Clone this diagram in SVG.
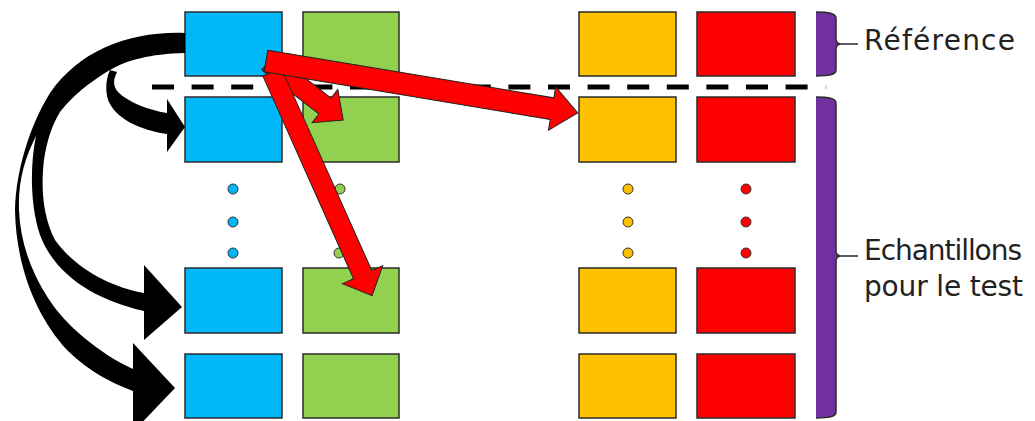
<svg xmlns="http://www.w3.org/2000/svg" width="1035" height="421" viewBox="0 0 1035 421">
<style>
.box{stroke:#2b2b2b;stroke-width:1.5}
.blue{fill:#00B8F8}
.green{fill:#92D050}
.orange{fill:#FFC000}
.red{fill:#FF0000}
.dot{stroke:#333;stroke-width:1}
.blk{fill:#000}
.rarrow{fill:#FF0000;stroke:#222;stroke-width:1;stroke-linejoin:miter}
.brace{fill:#7030A0}
.braceEdge{fill:none;stroke:#2a2a2a;stroke-width:1.5}
.lbl{font-family:"DejaVu Sans",sans-serif;font-size:28px;fill:#222}
</style>
<rect width="1035" height="421" fill="#fff"/>
<g id="separator">
<line x1="152" y1="87" x2="808" y2="87" stroke="#000" stroke-width="5" stroke-dasharray="22 17.6"/>
<line x1="826" y1="85" x2="826" y2="89" stroke="#aaa" stroke-width="1"/>
</g>
<g id="col-blue">
<rect id="b1" class="box blue" x="185" y="12" width="97" height="64"/>
<rect id="b2" class="box blue" x="185" y="97" width="97" height="65"/>
<circle class="dot blue" cx="233" cy="189" r="5"/>
<circle class="dot blue" cx="233" cy="222" r="5"/>
<circle class="dot blue" cx="233" cy="253" r="5"/>
<rect id="b3" class="box blue" x="185" y="268" width="97" height="65"/>
<rect id="b4" class="box blue" x="185" y="354" width="97" height="64"/>
</g>
<g id="col-green">
<rect id="g1" class="box green" x="303" y="12" width="96" height="64"/>
<rect id="g2" class="box green" x="303" y="97" width="96" height="65"/>
<circle class="dot green" cx="340" cy="189" r="5"/>
<circle class="dot green" cx="340" cy="222" r="5"/>
<circle class="dot green" cx="339" cy="253" r="5"/>
<rect id="g3" class="box green" x="303" y="268" width="96" height="65"/>
<rect id="g4" class="box green" x="303" y="354" width="96" height="64"/>
</g>
<g id="col-orange">
<rect id="o1" class="box orange" x="579" y="12" width="97" height="64"/>
<rect id="o2" class="box orange" x="579" y="97" width="97" height="65"/>
<circle class="dot orange" cx="628" cy="189" r="5"/>
<circle class="dot orange" cx="628" cy="222" r="5"/>
<circle class="dot orange" cx="628" cy="253" r="5"/>
<rect id="o3" class="box orange" x="579" y="268" width="97" height="65"/>
<rect id="o4" class="box orange" x="579" y="354" width="97" height="64"/>
</g>
<g id="col-red">
<rect id="r1" class="box red" x="697" y="12" width="98" height="64"/>
<rect id="r2" class="box red" x="697" y="97" width="98" height="65"/>
<circle class="dot red" cx="746" cy="189" r="5"/>
<circle class="dot red" cx="746" cy="222" r="5"/>
<circle class="dot red" cx="746" cy="253" r="5"/>
<rect id="r3" class="box red" x="697" y="268" width="98" height="65"/>
<rect id="r4" class="box red" x="697" y="354" width="98" height="64"/>
</g>
<g id="brace-reference">
<path class="brace" d="M816,12 C828,12 836,13 836,18 L836,40 Q837,44 841,44 Q837,44 836,48 L836,70 C836,75 828,76 816,76 Z"/>
<path class="braceEdge" d="M816,12 C828,12 836,13 836,18 L836,40 Q837,44 841,44 L858,44 M841,44 Q837,44 836,48 L836,70 C836,75 828,76 816,76"/>
<text class="lbl" x="864" y="50" textLength="151" lengthAdjust="spacing">Référence</text>
</g>
<g id="brace-test">
<path class="brace" d="M816,97 C828,97 836,98 836,103 L836,252 Q837,256 841,256 Q837,256 836,260 L836,412 C836,417 828,418 816,418 Z"/>
<path class="braceEdge" d="M816,97 C828,97 836,98 836,103 L836,252 Q837,256 841,256 L858,256 M841,256 Q837,256 836,260 L836,412 C836,417 828,418 816,418"/>
<text class="lbl" x="864" y="260" textLength="158" lengthAdjust="spacing">Echantillons</text>
<text class="lbl" x="864" y="296" textLength="159" lengthAdjust="spacing">pour le test</text>
</g>
<g id="connectors">
<path class="blk" d="M185,33 C130,31 80,50 50,93 C30,125 16,170 15,210 C16,265 35,315 67,350 C90,372 110,382 133,391 L133,432 L175,388 L133,343 L133,369 C100,354 65,325 48,298 C30,270 20,240 19,210 C18,180 25,158 36,136 L48,132 C60,105 85,85 110,70 C127,60 150,54 185,53 Z"/>
<path class="blk" d="M36,136 C30,165 30,205 40,235 C55,275 95,300 144,311 L144,340 L182,307 L144,265 L144,293 C110,287 75,268 55,240 C42,215 41,185 44,160 C47,140 52,125 60,112 Z"/>
<path class="blk" d="M110,70 C105,80 105,96 110,104 C118,119 140,130 167,134 L167,152 L185,127 L167,99 L167,113 C148,110 128,102 118,92 C113,86 113,80 117,72 Z"/>
<polygon class="rarrow" transform="translate(268,62) rotate(37.7)" points="0,-10 72,-10 72,-21 95,0 72,21 72,10 0,10"/>
<polygon class="rarrow" transform="translate(272,72) rotate(65.9)" points="0,-10 222,-10 222,-22 245,0 222,22 222,10 0,10"/>
<polygon class="rarrow" transform="translate(266,61) rotate(9.46)" points="0,-11 290,-11 290,-22 316,0 290,22 290,11 0,11"/>
</g>
</svg>
